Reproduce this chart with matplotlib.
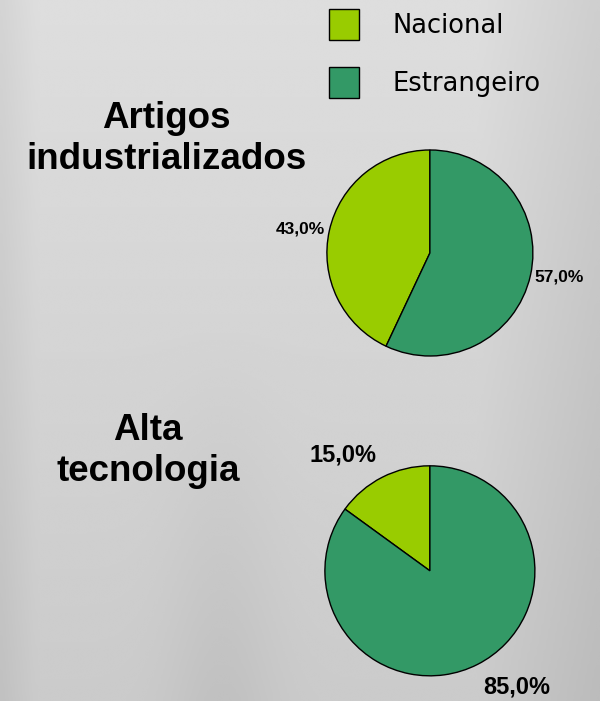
import numpy as np
import matplotlib.pyplot as plt
from matplotlib.colors import LinearSegmentedColormap

# =========================================================
# DATA
# =========================================================

categories = ["Nacional", "Estrangeiro"]
colors = ["#99CC00", "#339966"]

titles = ["Artigos\nindustrializados", "Alta\ntecnologia"]
shares_industrial = [43.0, 57.0]
shares_hightech = [15.0, 85.0]


def pct_label(v):
    return f"{v:.1f}%".replace(".", ",")


plt.rcParams["font.family"] = ["Liberation Sans", "DejaVu Sans"]

fig = plt.figure(figsize=(6.0, 7.01), dpi=100)

# =========================================================
# BACKGROUND (soft grey gradient)
# =========================================================

bg = fig.add_axes([0, 0, 1, 1])
yy, xx = np.mgrid[0:1:300j, 0:1:260j]
band = np.exp(-((xx - 0.37) / 0.09) ** 2) * np.clip(yy - 0.45, 0, None) / 0.55
shade = (0.87 - 0.075 * yy - 0.06 * np.clip(xx - 0.8, 0, None) / 0.2
         - 0.04 * np.clip(0.06 - xx, 0, None) / 0.06 - 0.04 * band)
bg_cmap = LinearSegmentedColormap.from_list("grey", ["#000000", "#ffffff"])
bg.imshow(shade, cmap=bg_cmap, vmin=0, vmax=1, aspect="auto",
          extent=[0, 1, 1, 0], interpolation="bicubic")
bg.set_xlim(0, 1)
bg.set_ylim(1, 0)
bg.axis("off")

# =========================================================
# PIES
# =========================================================


def draw_pie(rect, values, label_dist, label_shift, label_size):
    ax = fig.add_axes(rect)
    wedges, _ = ax.pie(values, colors=colors, startangle=90, counterclock=True,
                       wedgeprops=dict(edgecolor="black", linewidth=1.0))
    for w, v in zip(wedges, values):
        mid = np.deg2rad((w.theta1 + w.theta2) / 2 + label_shift)
        ax.text(label_dist * np.cos(mid), label_dist * np.sin(mid), pct_label(v),
                ha="center", va="center", fontsize=label_size, fontweight="bold")
    ax.set_xlim(-1.5, 1.5)
    ax.set_ylim(-1.5, 1.5)
    ax.set_aspect("equal")
    ax.axis("off")
    return wedges


wedges = draw_pie([0.459, 0.4187, 0.515, 0.4408], shares_industrial, 1.28, 2, 12.5)
draw_pie([0.454, -0.039, 0.525, 0.4494], shares_hightech, 1.38, 10, 17)

fig.text(0.278, 1 - 139 / 701, titles[0], ha="center", va="center",
         fontsize=26.5, fontweight="bold", linespacing=1.22)
fig.text(0.247, 1 - 451 / 701, titles[1], ha="center", va="center",
         fontsize=26.5, fontweight="bold", linespacing=1.22)

# =========================================================
# LEGEND
# =========================================================

fig.legend(wedges, categories, loc="upper left", bbox_to_anchor=(329 / 600, 1 - 9 / 701),
           frameon=False, borderpad=0, borderaxespad=0, handlelength=1.17,
           handleheight=1.47, handletextpad=1.3, labelspacing=1.05,
           prop={"family": "DejaVu Sans", "size": 18.5})

fig.savefig("out.png", dpi=100)
